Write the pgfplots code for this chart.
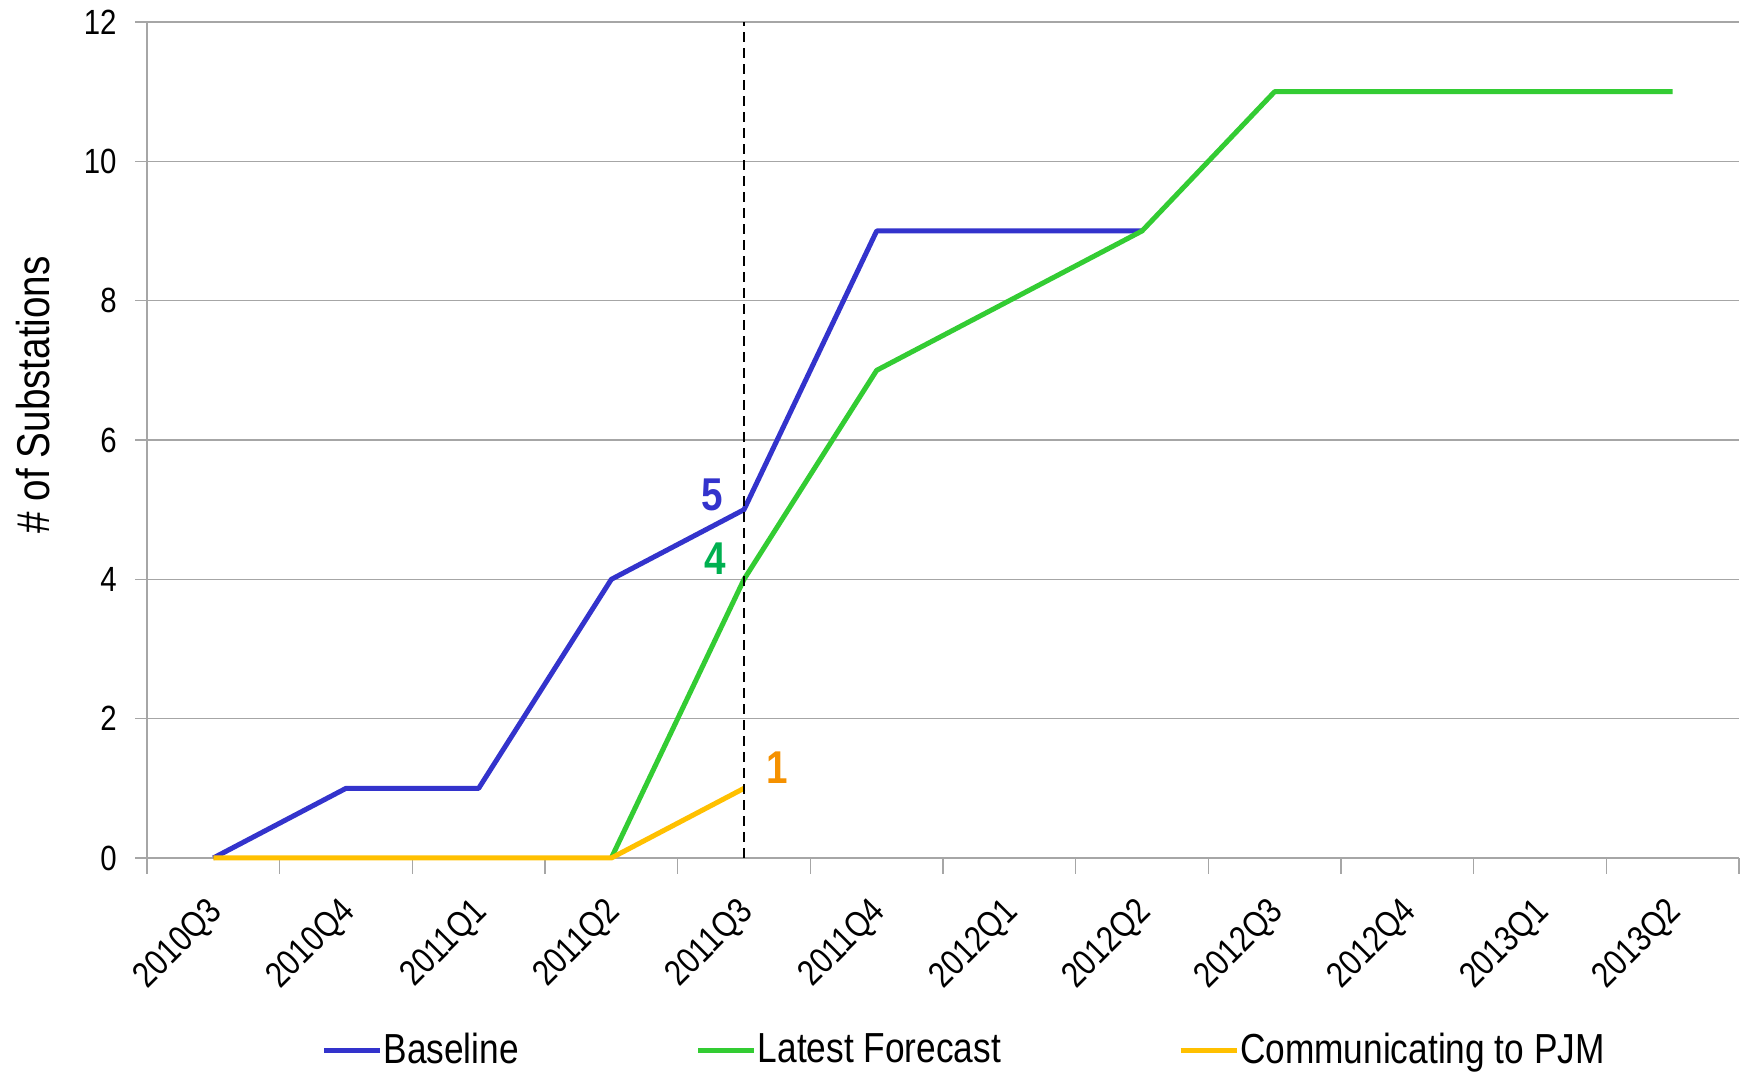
\documentclass[border=0pt]{standalone}
\usepackage{fontspec}
\setmainfont{Liberation Sans}[FakeStretch=0.84]
\usepackage{pgfplots}
\pgfplotsset{compat=1.18}
\definecolor{cBase}{HTML}{3333CC}
\definecolor{cFore}{HTML}{33CC33}
\definecolor{cComm}{HTML}{FFC000}
\definecolor{lFour}{HTML}{00B050}
\definecolor{lOne}{HTML}{F59100}
\begin{document}
\begin{tikzpicture}
\begin{axis}[
  scale only axis,
  width=796pt, height=418pt,
  xmin=-0.5, xmax=11.5,
  ymin=0, ymax=12,
  ytick={0,2,...,12},
  xtick={0,...,11},
  xticklabels={2010Q3,2010Q4,2011Q1,2011Q2,2011Q3,2011Q4,2012Q1,2012Q2,2012Q3,2012Q4,2013Q1,2013Q2},
  minor xtick={-0.5,0.5,...,11.5},
  major x tick style={draw=none},
  minor x tick style={draw=gray!70, line width=0.8pt},
  major y tick style={draw=gray!70, line width=0.8pt},
  tick align=outside,
  major tick length=6pt,
  minor tick length=8pt,
  axis x line*=bottom,
  axis y line*=left,
  axis line style={draw=gray!70, line width=0.8pt, -},
  ymajorgrids,
  grid style={draw=gray!70, line width=0.8pt},
  /pgf/number format/assume math mode=true,
  yticklabel style={font=\fontsize{17.5}{20}\selectfont, inner sep=0pt, xshift=-9pt},
  xticklabel style={font=\fontsize{18}{20}\selectfont, xshift=-3.8pt, yshift=-12.5pt, rotate=45, anchor=north east, inner sep=0pt},
  ylabel={\# of Substations},
  every axis y label/.style={at={(rel axis cs:0,0.554)}, xshift=-57pt, rotate=90, anchor=center, font=\fontsize{23}{26}\selectfont},
  legend columns=3,
  legend style={at={(0.1094,-0.2297)}, anchor=west, draw=none, fill=none,
    font=\fontsize{21}{24}\selectfont, inner xsep=0pt,
    /tikz/every even column/.append style={column sep=88pt},
    nodes={inner xsep=0.5pt}},
  legend image code/.code={\draw[#1] (0pt,0pt) -- (28pt,0pt);},
  clip=false,
]
\addplot[cBase, line width=2.5pt, line join=round] coordinates {
  (0,0) (1,1) (2,1) (3,4) (4,5) (5,9) (6,9) (7,9)};
\addlegendentry{Baseline}
\addplot[cFore, line width=2.5pt, line join=round] coordinates {
  (3,0) (4,4) (5,7) (6,8) (7,9) (8,11) (9,11) (10,11) (11,11)};
\addlegendentry{Latest Forecast}
\addplot[cComm, line width=2.5pt, line join=round] coordinates {
  (0,0) (1,0) (2,0) (3,0) (4,1)};
\addlegendentry{Communicating to PJM}
\addplot[black, line width=1.2pt, dash pattern=on 5pt off 3pt, forget plot] coordinates {(4,0) (4,12)};
\node[text=cBase, font=\fontsize{23}{26}\selectfont\bfseries] at (axis cs:3.76,5.21) {5};
\node[text=lFour, font=\fontsize{23}{26}\selectfont\bfseries] at (axis cs:3.78,4.30) {4};
\node[text=lOne, font=\fontsize{23}{26}\selectfont\bfseries] at (axis cs:4.25,1.29) {1};
\end{axis}
\pgfresetboundingbox
\path (-73.5pt,-108.5pt) rectangle (799.5pt,429pt);
\end{tikzpicture}
\end{document}
